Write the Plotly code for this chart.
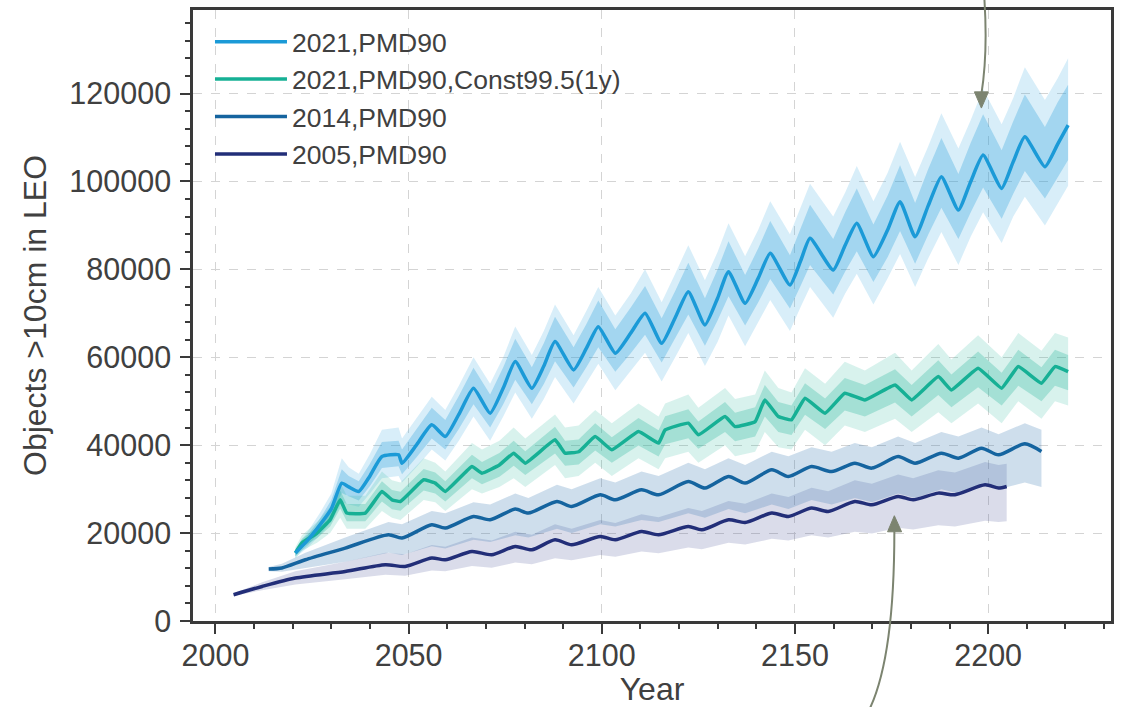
import plotly.graph_objects as go

# ---------------- data ----------------
blue_years = [2020.7, 2024.0, 2027.0, 2030.0, 2032.7, 2034.5, 2037.1, 2040.0, 2043.1, 2047.4, 2048.3, 2052.0,
              2056.0, 2059.5, 2063.0, 2066.8, 2071.1, 2074.5, 2077.6, 2081.9, 2085.0, 2087.9, 2092.7, 2096.0,
              2099.1, 2103.5, 2107.5, 2111.2, 2115.5, 2119.0, 2122.4, 2126.7, 2130.0, 2132.8, 2137.1, 2140.5,
              2143.6, 2148.7, 2151.5, 2153.9, 2159.9, 2163.0, 2166.0, 2170.3, 2174.0, 2177.2, 2181.1, 2184.5,
              2187.9, 2192.3, 2195.5, 2198.7, 2203.5, 2206.5, 2209.5, 2214.7, 2218.0, 2220.7]
blue_mean = [15460, 18500, 21800, 25500, 31370, 30500, 29460, 33000, 37420, 37800, 35900, 40000,
             44620, 41960, 47000, 52960, 47280, 53000, 59010, 52960, 58000, 63560, 57120, 62000,
             66960, 60920, 65500, 70010, 63190, 69000, 74920, 67350, 73500, 79470, 72280, 78000,
             83650, 76440, 82000, 87060, 79850, 85500, 90470, 82870, 89000, 95380, 87420, 94500,
             101060, 93490, 100000, 105990, 98420, 104500, 110150, 103330, 108500, 112810]
blue_upper = [16500, 20500, 24500, 29000, 37000, 35000, 33500, 38000, 43500, 44000, 41500, 46000,
              51000, 48000, 53500, 60000, 54000, 60000, 67000, 60500, 66000, 72000, 65000, 70500,
              76000, 69500, 74500, 80000, 72500, 79000, 85500, 77500, 84000, 90500, 83000, 89000,
              95500, 88000, 94000, 99500, 92000, 97500, 103500, 95500, 102000, 109000, 101000, 108000,
              115500, 107500, 114000, 121000, 113000, 119000, 126000, 118500, 123500, 128000]
blue_lower = [14500, 16800, 19500, 22500, 27000, 26500, 26000, 29000, 32500, 33000, 31500, 35000,
              39000, 36500, 41000, 46500, 41000, 46500, 52000, 46000, 50500, 55500, 49500, 54000,
              58500, 52500, 57000, 61000, 54500, 60000, 65500, 58000, 63500, 69500, 62500, 68000,
              73000, 66000, 71500, 76000, 69000, 74500, 79000, 72000, 78000, 83500, 76000, 82500,
              88500, 81000, 87500, 93000, 86000, 92000, 96500, 90000, 95000, 99000]
blue_core_upper = [16200, 19600, 23200, 27500, 34500, 33000, 31800, 35800, 40700, 41000, 39000, 43500,
                   48500, 45700, 51200, 57600, 51500, 57700, 64200, 57700, 63200, 69200, 62300, 67500,
                   72900, 66400, 71300, 76200, 68900, 75100, 81500, 73400, 80000, 86400, 78700, 84800,
                   91000, 83200, 89200, 94700, 86900, 93000, 98400, 90200, 96800, 103700, 95100, 102800,
                   109900, 101700, 108800, 115300, 107100, 113700, 119800, 112400, 118000, 122000]
blue_core_lower = [14800, 17300, 20300, 23700, 29100, 28400, 27400, 30700, 34800, 35200, 33400, 37200,
                   41500, 39000, 43700, 49300, 44000, 49300, 54900, 49300, 53900, 59100, 53100, 57700,
                   62300, 56700, 60900, 65100, 58800, 64200, 69700, 62600, 68400, 73900, 67200, 72500,
                   77800, 71100, 76300, 81000, 74300, 79500, 84100, 77100, 82800, 88700, 81300, 87900,
                   94000, 86900, 93000, 98600, 91500, 97200, 102400, 96100, 100900, 104900]

green_years = [2020.7, 2022.4, 2026.3, 2029.7, 2032.3, 2034.0, 2038.8, 2043.1, 2045.7, 2047.9, 2053.9, 2056.9,
               2059.5, 2066.4, 2069.0, 2073.5, 2077.2, 2080.2, 2087.9, 2090.5, 2094.0, 2098.3, 2102.6, 2109.5,
               2114.7, 2116.4, 2122.4, 2125.0, 2131.9, 2134.5, 2139.7, 2142.2, 2145.7, 2149.1, 2152.6, 2157.8,
               2162.9, 2168.1, 2175.9, 2180.2, 2187.1, 2190.5, 2197.4, 2203.5, 2207.8, 2213.8, 2217.3, 2220.7]
green_mean = [15460, 17730, 20000, 23030, 27570, 24550, 24550, 29460, 27570, 27190, 32120, 31370,
              29460, 35140, 33640, 35500, 38190, 35910, 41210, 38190, 38500, 41960, 38940, 43100,
              40460, 43480, 45010, 42350, 46510, 44230, 45370, 50300, 46510, 45760, 50690, 47280,
              51820, 50300, 53710, 50300, 55600, 52570, 57500, 52960, 57880, 54100, 57880, 56740]
green_upper = [16800, 19500, 22500, 26000, 31500, 28500, 28500, 34000, 32000, 31500, 37000, 36000,
               34000, 40500, 39000, 41000, 44000, 41500, 47000, 44000, 44500, 48000, 45000, 49500,
               46500, 49500, 51500, 48500, 53000, 50500, 51500, 57000, 53000, 52000, 57500, 54000,
               59000, 57000, 61000, 57000, 63000, 59500, 65000, 60000, 65500, 61500, 65500, 64500]
green_lower = [14200, 16000, 17800, 20000, 23500, 21000, 21000, 25000, 23500, 23000, 27500, 27000,
               25000, 30000, 29000, 30500, 32500, 30500, 35500, 32500, 33000, 36000, 33000, 37000,
               34500, 37000, 38500, 36000, 40000, 37500, 38500, 43000, 39500, 39000, 43500, 40000,
               44500, 43000, 46000, 43000, 47500, 45000, 49500, 45000, 50000, 46000, 50000, 49000]
green_core_upper = [16100, 18700, 21300, 24700, 29700, 26600, 26600, 31800, 29800, 29400, 34600, 33800,
                    31800, 37800, 36200, 38200, 41000, 38600, 44200, 41000, 41300, 45000, 41800, 46200,
                    43400, 46600, 48200, 45400, 49800, 47400, 48600, 53700, 49800, 49000, 54100, 50600,
                    55300, 53700, 57300, 53700, 59300, 56100, 61300, 56500, 61700, 57700, 61700, 60500]
green_core_lower = [14800, 16800, 18800, 21500, 25600, 22700, 22700, 27200, 25400, 25100, 29700, 29000,
                    27200, 32500, 31100, 32800, 35300, 33200, 38100, 35300, 35600, 38800, 36000, 39900,
                    37400, 40200, 41600, 39200, 43000, 40900, 42000, 46500, 43000, 42300, 46900, 43700,
                    47900, 46500, 49700, 46500, 51400, 48600, 53200, 49000, 53500, 50000, 53500, 52500]

y2014_years = [2013.8, 2017.2, 2023.3, 2033.6, 2044.8, 2048.3, 2056.0, 2059.5, 2066.8, 2071.1, 2077.6, 2081.0,
               2088.4, 2092.2, 2099.6, 2103.5, 2110.3, 2114.7, 2122.4, 2126.7, 2132.8, 2137.1, 2144.0, 2148.3,
               2154.3, 2159.5, 2165.5, 2169.9, 2176.7, 2181.1, 2187.9, 2192.3, 2198.3, 2202.7, 2209.5, 2213.8]
y2014_mean = [11820, 12050, 13930, 16590, 19620, 18870, 21890, 21140, 23780, 23030, 25460, 24550,
              27190, 26050, 28710, 27570, 29840, 28710, 31730, 30230, 32870, 31370, 34390, 32870,
              35140, 34000, 35910, 34780, 37410, 35910, 38190, 37050, 39320, 37800, 40300, 38550]
y2014_upper = [12300, 13000, 15500, 19000, 22500, 22000, 25000, 24500, 27000, 26500, 29000, 28000,
               31000, 30000, 32500, 31500, 34000, 33000, 36000, 34500, 37000, 35500, 38500, 37500,
               39500, 38500, 40500, 39500, 42000, 40500, 43000, 42000, 44000, 42500, 45000, 43500]
y2014_lower = [11300, 11200, 12000, 13500, 15500, 15000, 17000, 16500, 18500, 18000, 19500, 19000,
               21000, 20000, 22000, 21500, 23000, 22500, 24500, 23500, 25500, 24500, 26500, 25500,
               27500, 26500, 28000, 27000, 29000, 28000, 30000, 29000, 31000, 30000, 31500, 30500]

y2005_years = [2004.7, 2012.1, 2020.7, 2033.6, 2044.0, 2049.1, 2056.0, 2059.5, 2066.4, 2071.5, 2077.6, 2081.9,
               2087.9, 2092.2, 2099.6, 2103.5, 2110.3, 2114.7, 2122.4, 2125.9, 2132.8, 2137.1, 2144.0, 2148.3,
               2154.3, 2158.6, 2165.5, 2169.9, 2176.7, 2180.6, 2187.1, 2191.4, 2199.2, 2202.7, 2204.8]
y2005_mean = [5980, 7860, 9770, 11270, 12800, 12410, 14320, 13930, 15820, 15070, 16960, 16210,
              18480, 17340, 19230, 18480, 20370, 19620, 21500, 20750, 23030, 22420, 24550, 23780,
              25690, 24910, 27190, 26430, 28320, 27570, 29090, 28710, 30980, 30230, 30600]
y2005_upper = [6300, 8800, 11300, 13500, 15500, 15200, 17300, 16900, 19000, 18300, 20300, 19600,
               22000, 21000, 23000, 22300, 24300, 23600, 25700, 25000, 27300, 26700, 29000, 28200,
               30300, 29500, 32000, 31200, 33300, 32500, 34300, 33800, 36200, 35500, 35800]
y2005_lower = [5700, 7000, 8300, 9500, 10500, 10300, 11500, 11300, 12500, 12100, 13300, 12900,
               14300, 13800, 15000, 14600, 15800, 15400, 16700, 16300, 17800, 17400, 18700, 18300,
               19500, 19000, 20300, 19900, 21200, 20800, 21800, 21500, 22800, 22500, 22700]

series_names = ["2021,PMD90", "2021,PMD90,Const99.5(1y)", "2014,PMD90", "2005,PMD90"]
x_tick_vals = [2000, 2050, 2100, 2150, 2200]
y_tick_vals = [0, 20000, 40000, 60000, 80000, 100000, 120000]

# ---------------- styles ----------------
C_BLUE = "#1b9ad7"
C_GREEN = "#16b095"
C_2014 = "#15649f"
C_2005 = "#222e78"
FONT = "Liberation Sans, Arial, Helvetica, sans-serif"
TXT = "#404040"
AX = "#3a3a3a"

fig = go.Figure()


def band(xs, lo, hi, rgba, shape="linear"):
    fig.add_trace(go.Scatter(
        x=list(xs) + list(xs)[::-1], y=list(hi) + list(lo)[::-1],
        fill="toself", fillcolor=rgba, line=dict(width=0, shape=shape), mode="lines",
        hoverinfo="skip", showlegend=False))


band(y2005_years, y2005_lower, y2005_upper, "rgba(70,80,150,0.20)")
band(y2014_years, y2014_lower, y2014_upper, "rgba(50,115,175,0.24)")
band(blue_years, blue_lower, blue_upper, "rgba(60,170,225,0.20)")
band(blue_years, blue_core_lower, blue_core_upper, "rgba(40,160,220,0.30)")
band(green_years, green_lower, green_upper, "rgba(40,185,155,0.18)")
band(green_years, green_core_lower, green_core_upper, "rgba(30,180,150,0.28)")

fig.add_trace(go.Scatter(x=y2005_years, y=y2005_mean, mode="lines", name=series_names[3],
                         line=dict(color=C_2005, width=3.5, shape="spline", smoothing=0.7),
                         legendrank=4, legendgroup="d"))
fig.add_trace(go.Scatter(x=y2014_years, y=y2014_mean, mode="lines", name=series_names[2],
                         line=dict(color=C_2014, width=3.5, shape="spline", smoothing=0.7),
                         legendrank=3, legendgroup="c"))
fig.add_trace(go.Scatter(x=green_years, y=green_mean, mode="lines", name=series_names[1],
                         line=dict(color=C_GREEN, width=3.5, shape="spline", smoothing=0.3),
                         legendrank=2, legendgroup="b"))
fig.add_trace(go.Scatter(x=blue_years, y=blue_mean, mode="lines", name=series_names[0],
                         line=dict(color=C_BLUE, width=3.5, shape="spline", smoothing=0.5),
                         legendrank=1, legendgroup="a"))

# ---------------- arrows (paper coordinates) ----------------
ARROW = "#7c8470"
shapes = [
    dict(type="path", xref="paper", yref="paper",
         path="M 0.862 1.02 Q 0.866 0.93 0.8588 0.862",
         line=dict(color=ARROW, width=2)),
    dict(type="path", xref="paper", yref="paper",
         path="M 0.8512 0.866 L 0.8665 0.866 L 0.8588 0.8395 Z",
         fillcolor=ARROW, line=dict(color=ARROW, width=1)),
    dict(type="path", xref="paper", yref="paper",
         path="M 0.764 0.147 Q 0.764 -0.06 0.7367 -0.145",
         line=dict(color=ARROW, width=2)),
    dict(type="path", xref="paper", yref="paper",
         path="M 0.7566 0.146 L 0.7719 0.146 L 0.764 0.1723 Z",
         fillcolor=ARROW, line=dict(color=ARROW, width=1)),
]

axis_common = dict(
    showline=True, linecolor=AX, linewidth=2.5, mirror=True,
    ticks="outside", ticklen=10, tickwidth=2, tickcolor=AX,
    showgrid=True, gridcolor="#d4d4d4", gridwidth=1.2, griddash="dash",
    zeroline=False, automargin=False,
    tickfont=dict(family=FONT, size=30.5, color=TXT),
)

fig.update_layout(
    width=1121, height=707,
    margin=dict(l=193, r=10, t=10, b=86),
    paper_bgcolor="white", plot_bgcolor="white",
    shapes=shapes,
    showlegend=True,
    legend=dict(x=0.0185, y=0.987, xanchor="left", yanchor="top",
                bgcolor="rgba(255,255,255,0)", borderwidth=0,
                font=dict(family=FONT, size=26.5, color=TXT),
                itemwidth=72, tracegroupgap=3, traceorder="normal"),
    xaxis=dict(range=[1994.2, 2231.8], tickvals=x_tick_vals, ticklabelstandoff=-4,
               minor=dict(dtick=10, tick0=2000, ticks="outside", ticklen=5, tickwidth=1.5,
                          tickcolor=AX, showgrid=False),
               title=dict(text="Year", font=dict(family=FONT, size=32, color=TXT), standoff=12),
               **axis_common),
    yaxis=dict(range=[0, 139000], tickvals=y_tick_vals, tickformat="d", ticklabelstandoff=3,
               minor=dict(dtick=4000, tick0=0, ticks="outside", ticklen=5, tickwidth=1.5,
                          tickcolor=AX, showgrid=False),
               title=dict(text="Objects >10cm in LEO", font=dict(family=FONT, size=32, color=TXT),
                          standoff=14),
               **axis_common),
)

fig.write_html("out.html", config={"displayModeBar": False},
               post_script="document.body.style.margin='0';document.body.style.overflow='hidden';")
